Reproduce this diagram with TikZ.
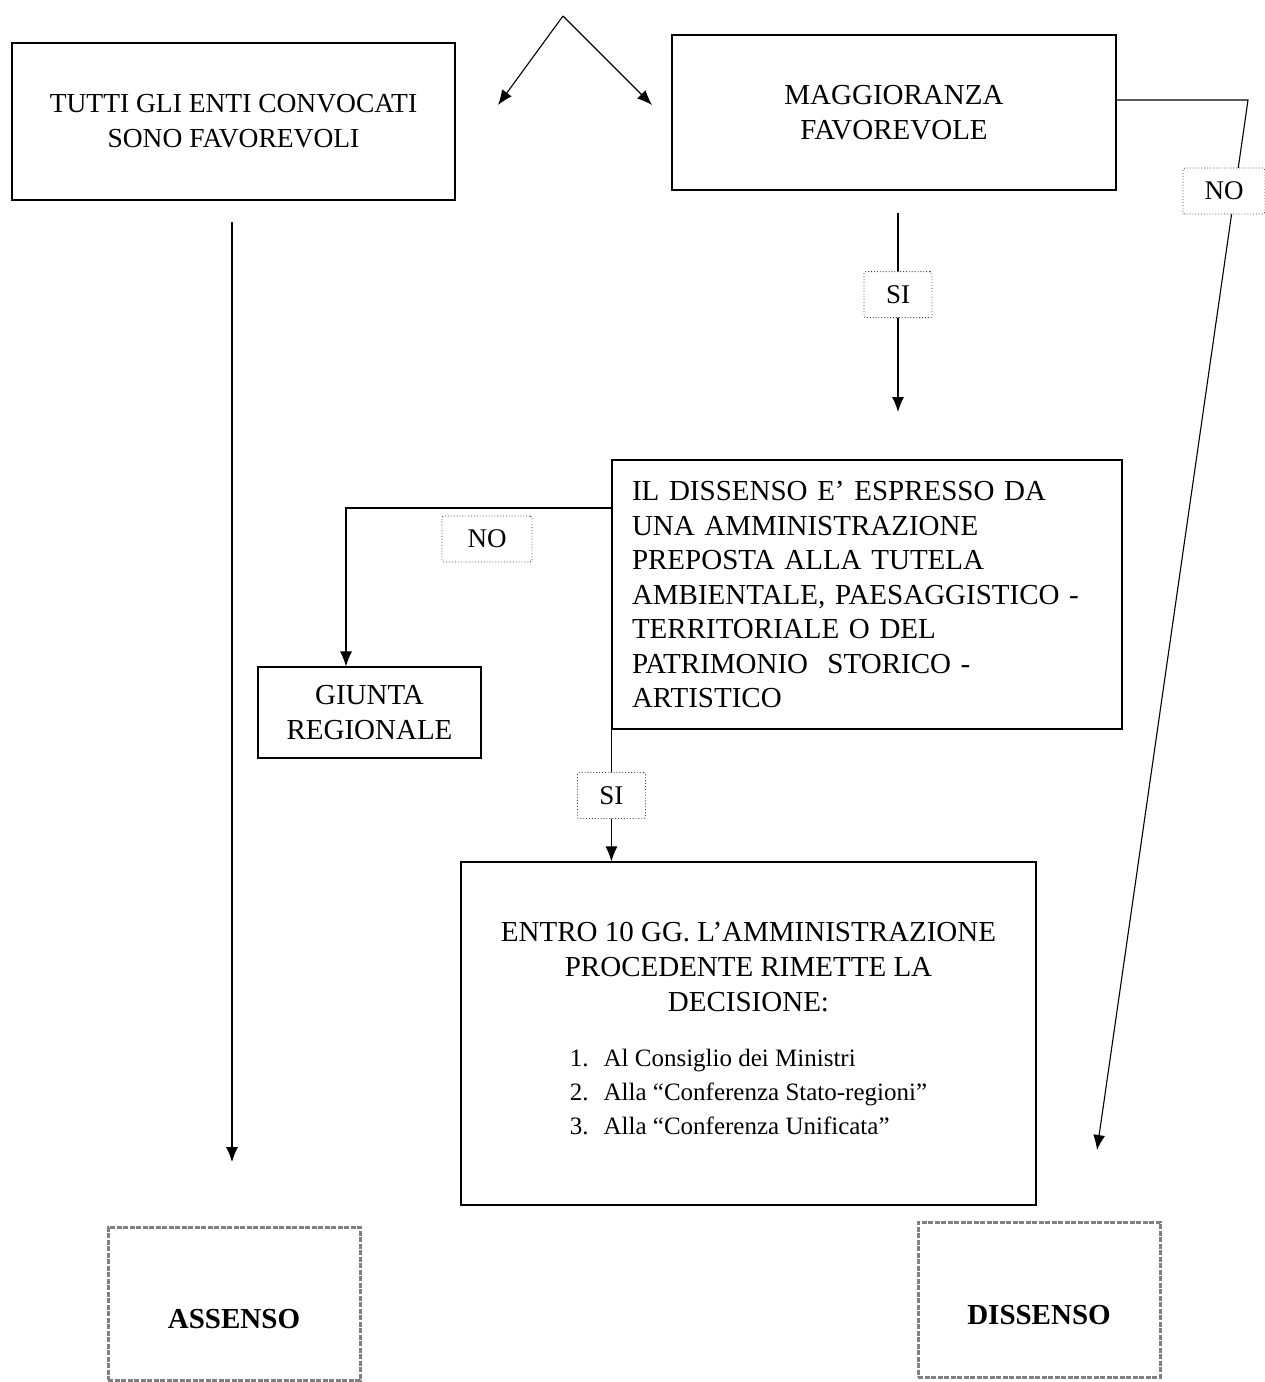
\documentclass[tikz,border=0pt]{standalone}
\usepackage{fontspec}
\setmainfont{Liberation Serif}
\usetikzlibrary{arrows.meta,positioning}
\colorlet{outcol}{black!50}
\colorlet{tagcol}{black!75}

\begin{document}
\begin{tikzpicture}[x=1pt, y=-1pt, line width=1.1pt,
    every node/.style={font=\fontsize{29}{35}\selectfont},
    box/.style={draw, rectangle, align=center, inner sep=0pt},
    tag/.style={draw=tagcol, dotted, line width=0.9pt, fill=white, rounded corners=2pt, minimum width=68, minimum height=46, inner sep=0pt, font=\fontsize{27}{32}\selectfont},
    outcome/.style={draw=outcol, line width=3pt, dash pattern=on 5pt off 1.5pt, text height=55pt, text depth=5pt, font=\bfseries\fontsize{29}{35}\selectfont},
    flow/.style={-{Latex[length=15pt,width=12pt]}}]
    \useasboundingbox (0,0) rectangle (1265,1382);

    % first split
    \coordinate (apex) at (563,16);
    \coordinate (apexl) at (498,105);
    \coordinate (apexr) at (652,105);
    \draw[flow] (apex) -- (apexl);
    \draw[flow] (apex) -- (apexr);

    \node[box, minimum width=443, minimum height=157, font=\fontsize{27.5}{35}\selectfont] (tutti) at (233.5,121.5) {TUTTI GLI ENTI CONVOCATI\\SONO FAVOREVOLI};
    \node[box, minimum width=444, minimum height=155] (magg) at (894,112.5) {MAGGIORANZA\\FAVOREVOLE};

    \node[box, minimum width=510, minimum height=269, text width=470, align=left, inner xsep=20pt, font=\fontsize{29}{34.5}\selectfont] (dissenso) at (867,594.5)
      {IL DISSENSO E’ ESPRESSO DA\\UNA AMMINISTRAZIONE\\PREPOSTA ALLA TUTELA\\AMBIENTALE, PAESAGGISTICO -\\TERRITORIALE O DEL\\PATRIMONIO\ \ STORICO -\\ARTISTICO};
    \node[box, minimum width=223, minimum height=91] (giunta) at (369.5,712.5) {GIUNTA\\REGIONALE};
    \node[box, minimum width=575, minimum height=343] (entro) at (748.5,1033.5)
      {ENTRO 10 GG. L’AMMINISTRAZIONE\\PROCEDENTE RIMETTE LA\\DECISIONE:\\[20pt]
       \fontsize{25}{34}\selectfont
       \begin{tabular}[t]{@{}r@{\hspace{15pt}}l@{}}
         1. & Al Consiglio dei Ministri\\
         2. & Alla “Conferenza Stato-regioni”\\
         3. & Alla “Conferenza Unificata”
       \end{tabular}};

    \node[outcome, minimum width=252, minimum height=153] (assenso) at (234,1303.5) {ASSENSO};
    \node[outcome, minimum width=242, minimum height=155] (dissfin) at (1039,1299.5) {DISSENSO};

    % all in favour
    \coordinate (tuttiout) at (232,222);
    \coordinate (assin) at (232,1162);
    \draw[flow] (tuttiout) -- (assin);

    % majority: yes
    \coordinate (maggout) at (898,213);
    \coordinate (dissin) at (898,412);
    \draw[flow] (maggout) -- (dissin) node[tag, pos=0.41] (si1) {SI};

    % majority: no
    \coordinate (nocorner) at (1248,100);
    \coordinate (dissfinin) at (1097,1150);
    \draw[flow] (magg.east |- nocorner) -- (nocorner) -- (dissfinin);
    \node[tag, minimum width=82] (no1) at (1224,191) {NO};

    % protected interest?
    \coordinate (nobend) at (346,508);
    \draw[flow] (dissenso.west |- nobend) -- (nobend) -- (giunta.north -| nobend);
    \node[tag, minimum width=90] (no2) at (487,539) {NO};
    \draw[flow] (dissenso.south west) -- (entro.north -| dissenso.south west) node[tag, pos=0.5] (si2) {SI};
\end{tikzpicture}
\end{document}
